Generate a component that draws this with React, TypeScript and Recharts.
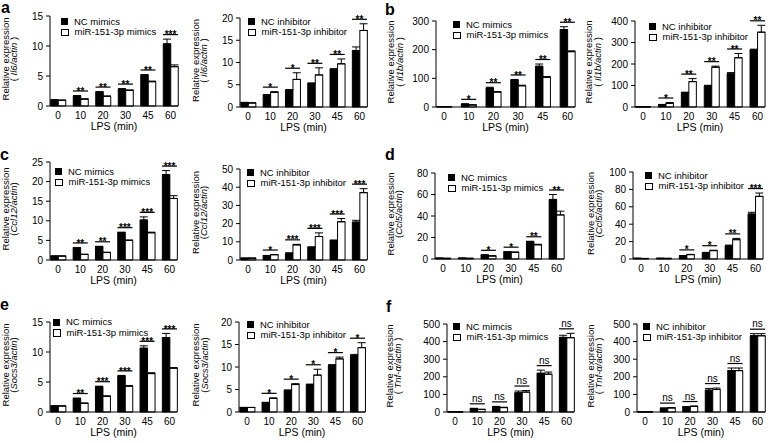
import React from 'react';
import { ComposedChart, Bar, XAxis, YAxis, ErrorBar, Scatter, Legend } from 'recharts';

const LPS = ['0', '10', '20', '30', '45', '60'];

// a: Il6
const il6MimNC = [1.0, 1.65, 2.3, 2.8, 5.1, 10.35];
const il6MimNCErr = [0.05, 0.1, 0.1, 0.1, 0.15, 0.8];
const il6Mim = [0.95, 1.15, 1.6, 2.6, 4.05, 6.55];
const il6MimErr = [0.05, 0.05, 0.08, 0.08, 0.1, 0.3];
const il6MimSig = ['', '**', '**', '**', '**', '***'];

const il6InhNC = [1.0, 2.7, 3.8, 5.3, 8.45, 12.7];
const il6InhNCErr = [0.05, 0.1, 0.1, 0.1, 0.15, 0.8];
const il6Inh = [0.9, 3.3, 6.2, 7.2, 9.7, 17.2];
const il6InhErr = [0.05, 0.15, 1.5, 1.6, 1.1, 1.5];
const il6InhSig = ['', '*', '*', '**', '**', '**'];

// b: Il1b
const il1bMimNC = [1, 10, 66, 93, 142, 270];
const il1bMimNCErr = [0.3, 1, 3, 3, 8, 10];
const il1bMim = [1, 7, 52, 74, 104, 193];
const il1bMimErr = [0.3, 1, 2, 2, 2, 3];
const il1bMimSig = ['', '*', '**', '**', '**', '**'];

const il1bInhNC = [1, 11, 66, 98, 154, 265];
const il1bInhNCErr = [0.3, 1, 3, 3, 6, 4];
const il1bInh = [1, 17, 118, 185, 229, 348];
const il1bInhErr = [0.3, 4, 14, 5, 20, 32];
const il1bInhSig = ['', '*', '**', '**', '**', '**'];

// c: Ccl12
const ccl12MimNC = [1.0, 3.1, 3.4, 7.0, 10.2, 21.8];
const ccl12MimNCErr = [0.05, 0.1, 0.1, 0.1, 0.8, 1.0];
const ccl12Mim = [1.0, 1.4, 1.9, 5.0, 6.95, 15.7];
const ccl12MimErr = [0.05, 0.1, 0.1, 0.1, 0.15, 0.7];
const ccl12MimSig = ['', '**', '**', '***', '***', '***'];

const ccl12InhNC = [1, 2.4, 3.7, 7.0, 10.7, 20.8];
const ccl12InhNCErr = [0.05, 0.1, 0.2, 0.2, 0.3, 1.0];
const ccl12Inh = [1, 2.9, 8.3, 12.9, 21, 37];
const ccl12InhErr = [0.05, 0.1, 0.3, 2, 1.8, 2.2];
const ccl12InhSig = ['', '*', '***', '***', '***', '***'];

// d: Ccl5
const ccl5MimNC = [0.8, 0.8, 3.7, 6.5, 16, 55.4];
const ccl5MimNCErr = [0.05, 0.05, 0.2, 0.3, 0.5, 4.6];
const ccl5Mim = [0.6, 0.6, 2.8, 6.2, 13.2, 41];
const ccl5MimErr = [0.05, 0.05, 0.2, 0.3, 0.5, 3.5];
const ccl5MimSig = ['', '', '*', '*', '**', '**'];

const ccl5InhNC = [0.8, 0.8, 3.8, 7.3, 15, 51.7];
const ccl5InhNCErr = [0.05, 0.05, 0.2, 0.3, 1, 2];
const ccl5Inh = [0.6, 0.7, 5, 9.6, 22.2, 72];
const ccl5InhErr = [0.05, 0.05, 0.3, 0.5, 1.5, 3.8];
const ccl5InhSig = ['', '', '*', '*', '**', '***'];

// e: Socs3
const socs3MimNC = [1.0, 2.25, 4.2, 6.0, 10.63, 12.4];
const socs3MimNCErr = [0.03, 0.08, 0.1, 0.1, 0.4, 0.7];
const socs3Mim = [1.0, 1.45, 2.6, 4.3, 6.4, 7.3];
const socs3MimErr = [0.03, 0.05, 0.1, 0.1, 0.15, 0.1];
const socs3MimSig = ['', '**', '***', '***', '***', '***'];

const socs3InhNC = [1, 2.1, 4.8, 6.1, 10.4, 12.5];
const socs3InhNCErr = [0.03, 0.05, 0.1, 0.1, 0.1, 0.3];
const socs3Inh = [1, 3.0, 6.1, 8.2, 11.8, 14.3];
const socs3InhErr = [0.03, 0.15, 0.2, 1.3, 0.4, 1.1];
const socs3InhSig = ['', '*', '*', '*', '*', '*'];

// f: Tnf-a
const tnfMimNC = [1, 19, 30, 109, 220, 424];
const tnfMimNCErr = [0.5, 2, 2, 10, 18, 12];
const tnfMim = [1, 14, 25, 113, 215, 422];
const tnfMimErr = [0.5, 2, 2, 9, 12, 25];
const tnfMimSig = ['', 'ns', 'ns', 'ns', 'ns', 'ns'];

const tnfInhNC = [1, 21, 29, 124, 235, 433];
const tnfInhNCErr = [0.5, 2, 2, 10, 15, 12];
const tnfInh = [1, 23, 32, 128, 235, 433];
const tnfInhErr = [0.5, 2, 2, 8, 15, 12];
const tnfInhSig = ['', 'ns', 'ns', 'ns', 'ns', 'ns'];

// tick labels
const ticks15 = [0, 5, 10, 15];
const ticks20 = [0, 5, 10, 15, 20];
const ticks300 = [0, 100, 200, 300];
const ticks400 = [0, 100, 200, 300, 400];
const ticks25 = [0, 5, 10, 15, 20, 25];
const ticks50 = [0, 10, 20, 30, 40, 50];
const ticks80 = [0, 20, 40, 60, 80];
const ticks100 = [0, 20, 40, 60, 80, 100];
const ticks500 = [0, 100, 200, 300, 400, 500];

const mimNames = ['NC mimics', 'miR-151-3p mimics'];
const mimNamesF = ['NC mimcis', 'miR-151-3p mimics'];
const inhNames = ['NC inhibitor', 'miR-151-3p inhibitor'];

const FONT = '"Liberation Sans", Arial, Helvetica, sans-serif';

type Cfg = {
  nc: number[]; ncErr: number[]; tr: number[]; trErr: number[]; sig: string[];
  ticks: number[]; names: string[]; gene: string; paren: [string, string];
  axisX: number; axisEnd: number; yTop: number; yBot: number;
  lab1: number; lab2: number; legX: number; legY: number;
};

const panels: Cfg[] = [
  { nc: il6MimNC, ncErr: il6MimNCErr, tr: il6Mim, trErr: il6MimErr, sig: il6MimSig, ticks: ticks15, names: mimNames, gene: 'Il6/actin', paren: ['( ', ' )'],
    axisX: 50, axisEnd: 178, yTop: 16, yBot: 106, lab1: -45, lab2: -37, legX: 61, legY: 18 },
  { nc: il6InhNC, ncErr: il6InhNCErr, tr: il6Inh, trErr: il6InhErr, sig: il6InhSig, ticks: ticks20, names: inhNames, gene: 'Il6/actin', paren: ['( ', ' )'],
    axisX: 240, axisEnd: 367, yTop: 18, yBot: 107, lab1: -45, lab2: -37, legX: 248, legY: 18 },
  { nc: il1bMimNC, ncErr: il1bMimNCErr, tr: il1bMim, trErr: il1bMimErr, sig: il1bMimSig, ticks: ticks300, names: mimNames, gene: 'Il1b/actin', paren: ['( ', ' )'],
    axisX: 436, axisEnd: 575, yTop: 21, yBot: 107, lab1: -46, lab2: -37, legX: 453, legY: 21 },
  { nc: il1bInhNC, ncErr: il1bInhNCErr, tr: il1bInh, trErr: il1bInhErr, sig: il1bInhSig, ticks: ticks400, names: inhNames, gene: 'Il1b/actin', paren: ['( ', ' )'],
    axisX: 635, axisEnd: 765, yTop: 21, yBot: 107, lab1: -47, lab2: -38, legX: 649, legY: 23 },
  { nc: ccl12MimNC, ncErr: ccl12MimNCErr, tr: ccl12Mim, trErr: ccl12MimErr, sig: ccl12MimSig, ticks: ticks25, names: mimNames, gene: 'Ccl12/actin', paren: ['(', ')'],
    axisX: 50, axisEnd: 177, yTop: 162, yBot: 260, lab1: -45, lab2: -37, legX: 55, legY: 168 },
  { nc: ccl12InhNC, ncErr: ccl12InhNCErr, tr: ccl12Inh, trErr: ccl12InhErr, sig: ccl12InhSig, ticks: ticks50, names: inhNames, gene: 'Ccl12/actin', paren: ['(', ')'],
    axisX: 240, axisEnd: 367, yTop: 169, yBot: 260, lab1: -45, lab2: -37, legX: 247, legY: 169 },
  { nc: ccl5MimNC, ncErr: ccl5MimNCErr, tr: ccl5Mim, trErr: ccl5MimErr, sig: ccl5MimSig, ticks: ticks80, names: mimNames, gene: 'Ccl5/actin', paren: ['(', ')'],
    axisX: 435, axisEnd: 564, yTop: 173, yBot: 259, lab1: -45, lab2: -37, legX: 448, legY: 174 },
  { nc: ccl5InhNC, ncErr: ccl5InhNCErr, tr: ccl5Inh, trErr: ccl5InhErr, sig: ccl5InhSig, ticks: ticks100, names: inhNames, gene: 'Ccl5/actin', paren: ['(', ')'],
    axisX: 633, axisEnd: 763, yTop: 172, yBot: 259, lab1: -43, lab2: -35, legX: 645, legY: 172 },
  { nc: socs3MimNC, ncErr: socs3MimNCErr, tr: socs3Mim, trErr: socs3MimErr, sig: socs3MimSig, ticks: ticks15, names: mimNames, gene: 'Socs3/actin', paren: ['(', ')'],
    axisX: 50, axisEnd: 177, yTop: 322, yBot: 412, lab1: -45, lab2: -37, legX: 53, legY: 318.5 },
  { nc: socs3InhNC, ncErr: socs3InhNCErr, tr: socs3Inh, trErr: socs3InhErr, sig: socs3InhSig, ticks: ticks20, names: inhNames, gene: 'Socs3/actin', paren: ['(', ')'],
    axisX: 239, axisEnd: 365, yTop: 322, yBot: 412, lab1: -44, lab2: -35, legX: 247, legY: 321 },
  { nc: tnfMimNC, ncErr: tnfMimNCErr, tr: tnfMim, trErr: tnfMimErr, sig: tnfMimSig, ticks: ticks500, names: mimNamesF, gene: 'Tnf-α/actin', paren: ['( ', ' )'],
    axisX: 447, axisEnd: 574, yTop: 324, yBot: 412, lab1: -58, lab2: -50, legX: 453, legY: 323 },
  { nc: tnfInhNC, ncErr: tnfInhNCErr, tr: tnfInh, trErr: tnfInhErr, sig: tnfInhSig, ticks: ticks500, names: inhNames, gene: 'Tnf-α/actin', paren: ['( ', ' )'],
    axisX: 637, axisEnd: 765, yTop: 324, yBot: 412, lab1: -47, lab2: -39, legX: 643, legY: 323 },
];

const letters = [
  { t: 'a', x: 1, base: 13.5 },
  { t: 'b', x: 385, base: 15 },
  { t: 'c', x: 0, base: 160 },
  { t: 'd', x: 385, base: 160 },
  { t: 'e', x: 0, base: 310 },
  { t: 'f', x: 386, base: 312 },
];

function buildData(c: Cfg) {
  return LPS.map((t, i) => ({
    t,
    nc: c.nc[i],
    tr: c.tr[i],
    ncE: [0, c.ncErr[i]],
    trE: [0, c.trErr[i]],
    sigY: c.sig[i] ? Math.max(c.nc[i] + c.ncErr[i], c.tr[i] + c.trErr[i]) : null,
    sig: c.sig[i],
  }));
}

const SigShape = (props: any) => {
  const { cx, cy, payload } = props;
  if (!payload || !payload.sig || cx == null || cy == null || isNaN(cy)) return <g />;
  const ly = cy - 4.5;
  return (
    <g>
      <line x1={cx - 7.5} x2={cx + 7.5} y1={ly} y2={ly} stroke="#000" strokeWidth={1.2} />
      {payload.sig === 'ns' ? (
        <text x={cx} y={ly - 2} textAnchor="middle" fontSize={10} fill="#000" fontFamily={FONT}>ns</text>
      ) : (
        <text x={cx} y={ly + 3.6} textAnchor="middle" fontSize={10} fontWeight="bold" fill="#000" fontFamily={FONT}>{payload.sig}</text>
      )}
    </g>
  );
};

const YW = 64;

function Panel({ c }: { c: Cfg }) {
  const left = c.axisX - YW;
  const top = c.yTop - 10;
  const plotH = c.yBot - c.yTop;
  const plotW = c.axisEnd - c.axisX;
  const width = c.axisEnd - left + 6;
  const height = plotH + 10 + 34;
  const band = (plotW - 15.5) / 5;
  const padL = 8 - band / 2;
  const padR = 7.5 - band / 2;
  const data = buildData(c);
  const cyMid = 10 + plotH / 2 - 2;

  const yLabel = () => (
    <g>
      <text x={YW + c.lab1} y={cyMid} transform={`rotate(-90, ${YW + c.lab1}, ${cyMid})`} textAnchor="middle" dominantBaseline="central" fontSize={9.5} fill="#000" fontFamily={FONT}>
        Relative expression
      </text>
      <text x={YW + c.lab2} y={cyMid} transform={`rotate(-90, ${YW + c.lab2}, ${cyMid})`} textAnchor="middle" dominantBaseline="central" fontSize={9.5} fill="#000" fontFamily={FONT}>
        {c.paren[0]}<tspan fontStyle="italic">{c.gene}</tspan>{c.paren[1]}
      </text>
    </g>
  );
  const xLabel = () => (
    <text x={YW + plotW / 2} y={10 + plotH + 24} textAnchor="middle" fontSize={10.5} fill="#000" fontFamily={FONT}>LPS (min)</text>
  );
  const legend = () => (
    <div style={{ fontFamily: FONT, fontSize: 9.5, color: '#000', lineHeight: '10.5px', whiteSpace: 'nowrap' }}>
      {c.names.map((n, i) => (
        <div key={n} style={{ display: 'flex', alignItems: 'center', height: 10.5 }}>
          <span style={{ display: 'inline-block', width: i === 0 ? 7 : 5.5, height: i === 0 ? 7 : 5.5, background: i === 0 ? '#000' : '#fff', border: i === 0 ? 'none' : '0.9px solid #000', marginRight: 6 }} />
          <span>{n}</span>
        </div>
      ))}
    </div>
  );

  return (
    <div style={{ position: 'absolute', left, top, width, height }}>
      <ComposedChart width={width} height={height} data={data} margin={{ top: 10, right: 6, left: 0, bottom: 0 }} barGap={0} barSize={7.5}>
        <XAxis dataKey="t" type="category" interval={0} padding={{ left: padL, right: padR }} height={34}
          tickLine={false} tickSize={4} tickMargin={2} axisLine={{ stroke: '#000', strokeWidth: 1 }}
          tick={{ fill: '#000', fontSize: 10, fontFamily: FONT }} label={{ content: xLabel }} />
        <YAxis width={YW} type="number" domain={[0, c.ticks[c.ticks.length - 1]]} ticks={c.ticks} interval={0}
          tickSize={4} tickMargin={3} axisLine={{ stroke: '#000', strokeWidth: 1 }} tickLine={{ stroke: '#000' }}
          tick={{ fill: '#000', fontSize: 10, fontFamily: FONT }} label={{ content: yLabel }} />
        <Bar dataKey="nc" fill="#000" stroke="#000" strokeWidth={1} isAnimationActive={false}>
          <ErrorBar dataKey="ncE" width={4} stroke="#000" strokeWidth={1} direction="y" />
        </Bar>
        <Bar dataKey="tr" fill="#fff" stroke="#000" strokeWidth={1} isAnimationActive={false}>
          <ErrorBar dataKey="trE" width={4} stroke="#000" strokeWidth={1} direction="y" />
        </Bar>
        <Scatter dataKey="sigY" shape={SigShape} isAnimationActive={false} legendType="none" />
        <Legend content={legend} layout="vertical" align="center" verticalAlign="middle"
          wrapperStyle={{ left: c.legX - left, top: c.legY - top - 1.5, width: 'auto', height: 'auto' }} />
      </ComposedChart>
    </div>
  );
}

export default function App() {
  return (
    <div style={{ position: 'absolute', left: 0, top: 0, width: 770, height: 443, background: '#fff', fontFamily: FONT, overflow: 'hidden' }}>
      {panels.map((c, i) => <Panel key={i} c={c} />)}
      {letters.map((l) => (
        <div key={l.t} style={{ position: 'absolute', left: l.x, top: l.base - 13.5, fontSize: 16, lineHeight: '16px', fontWeight: 'bold', fontFamily: FONT, color: '#000' }}>{l.t}</div>
      ))}
    </div>
  );
}
